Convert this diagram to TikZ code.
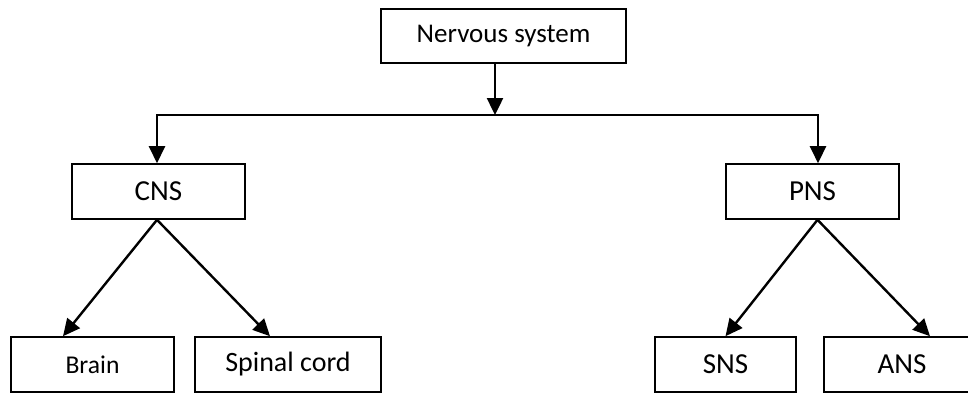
\documentclass[tikz,border=0pt]{standalone}
\usepackage{fontspec}
\setmainfont{Carlito}
\usetikzlibrary{arrows.meta,calc}

\begin{document}
\begin{tikzpicture}[x=0.5pt,y=-0.5pt,
  box/.style={draw,line width=0.8pt,inner sep=0pt,minimum height=27.5pt,
    font=\fontsize{14.5}{17}\selectfont},
  arr/.style={line width=1.2pt,-{Triangle[length=8.5pt,width=8pt]}}]
\useasboundingbox (0,0) rectangle (968,393);
% boxes
\node[box,minimum width=122.5pt,minimum height=27pt,font=\fontsize{13.5}{16}\selectfont] (ns) at (503.5,36) {Nervous system};
\node[box,minimum width=86.5pt] (cns) at (158.5,191.5) {CNS};
\node[box,minimum width=86.5pt] (pns) at (812.5,191.5) {PNS};
\node[box,minimum width=81.5pt,font=\fontsize{12.8}{15}\selectfont] (brain) at (92.5,364.5) {Brain};
\node[box,minimum width=93pt,font=\fontsize{14}{16}\selectfont] (spinal) at (288,364.5) {Spinal cord};
\node[box,minimum width=70.5pt] (sns) at (725.5,364.5) {SNS};
\node[box,minimum width=78pt] (ans) at (902,364.5) {ANS};
% connectors
\coordinate (split) at (495,115);
\draw[arr] (ns.south -| split) -- (split);
\draw[arr] (split) -| ($(cns.north)+(-1.5,0)$);
\draw[arr] (split) -| ($(pns.north)+(5.5,0)$);
\draw[arr] ($(cns.south)+(-1.5,0)$) -- ($(brain.north)+(-29.5,0)$);
\draw[arr] ($(cns.south)+(-1.5,0)$) -- ($(spinal.north)+(-18,0)$);
\draw[arr] ($(pns.south)+(5,0)$) -- (sns.north);
\draw[arr] ($(pns.south)+(5,0)$) -- ($(ans.north)+(28,0)$);
\end{tikzpicture}
\end{document}
